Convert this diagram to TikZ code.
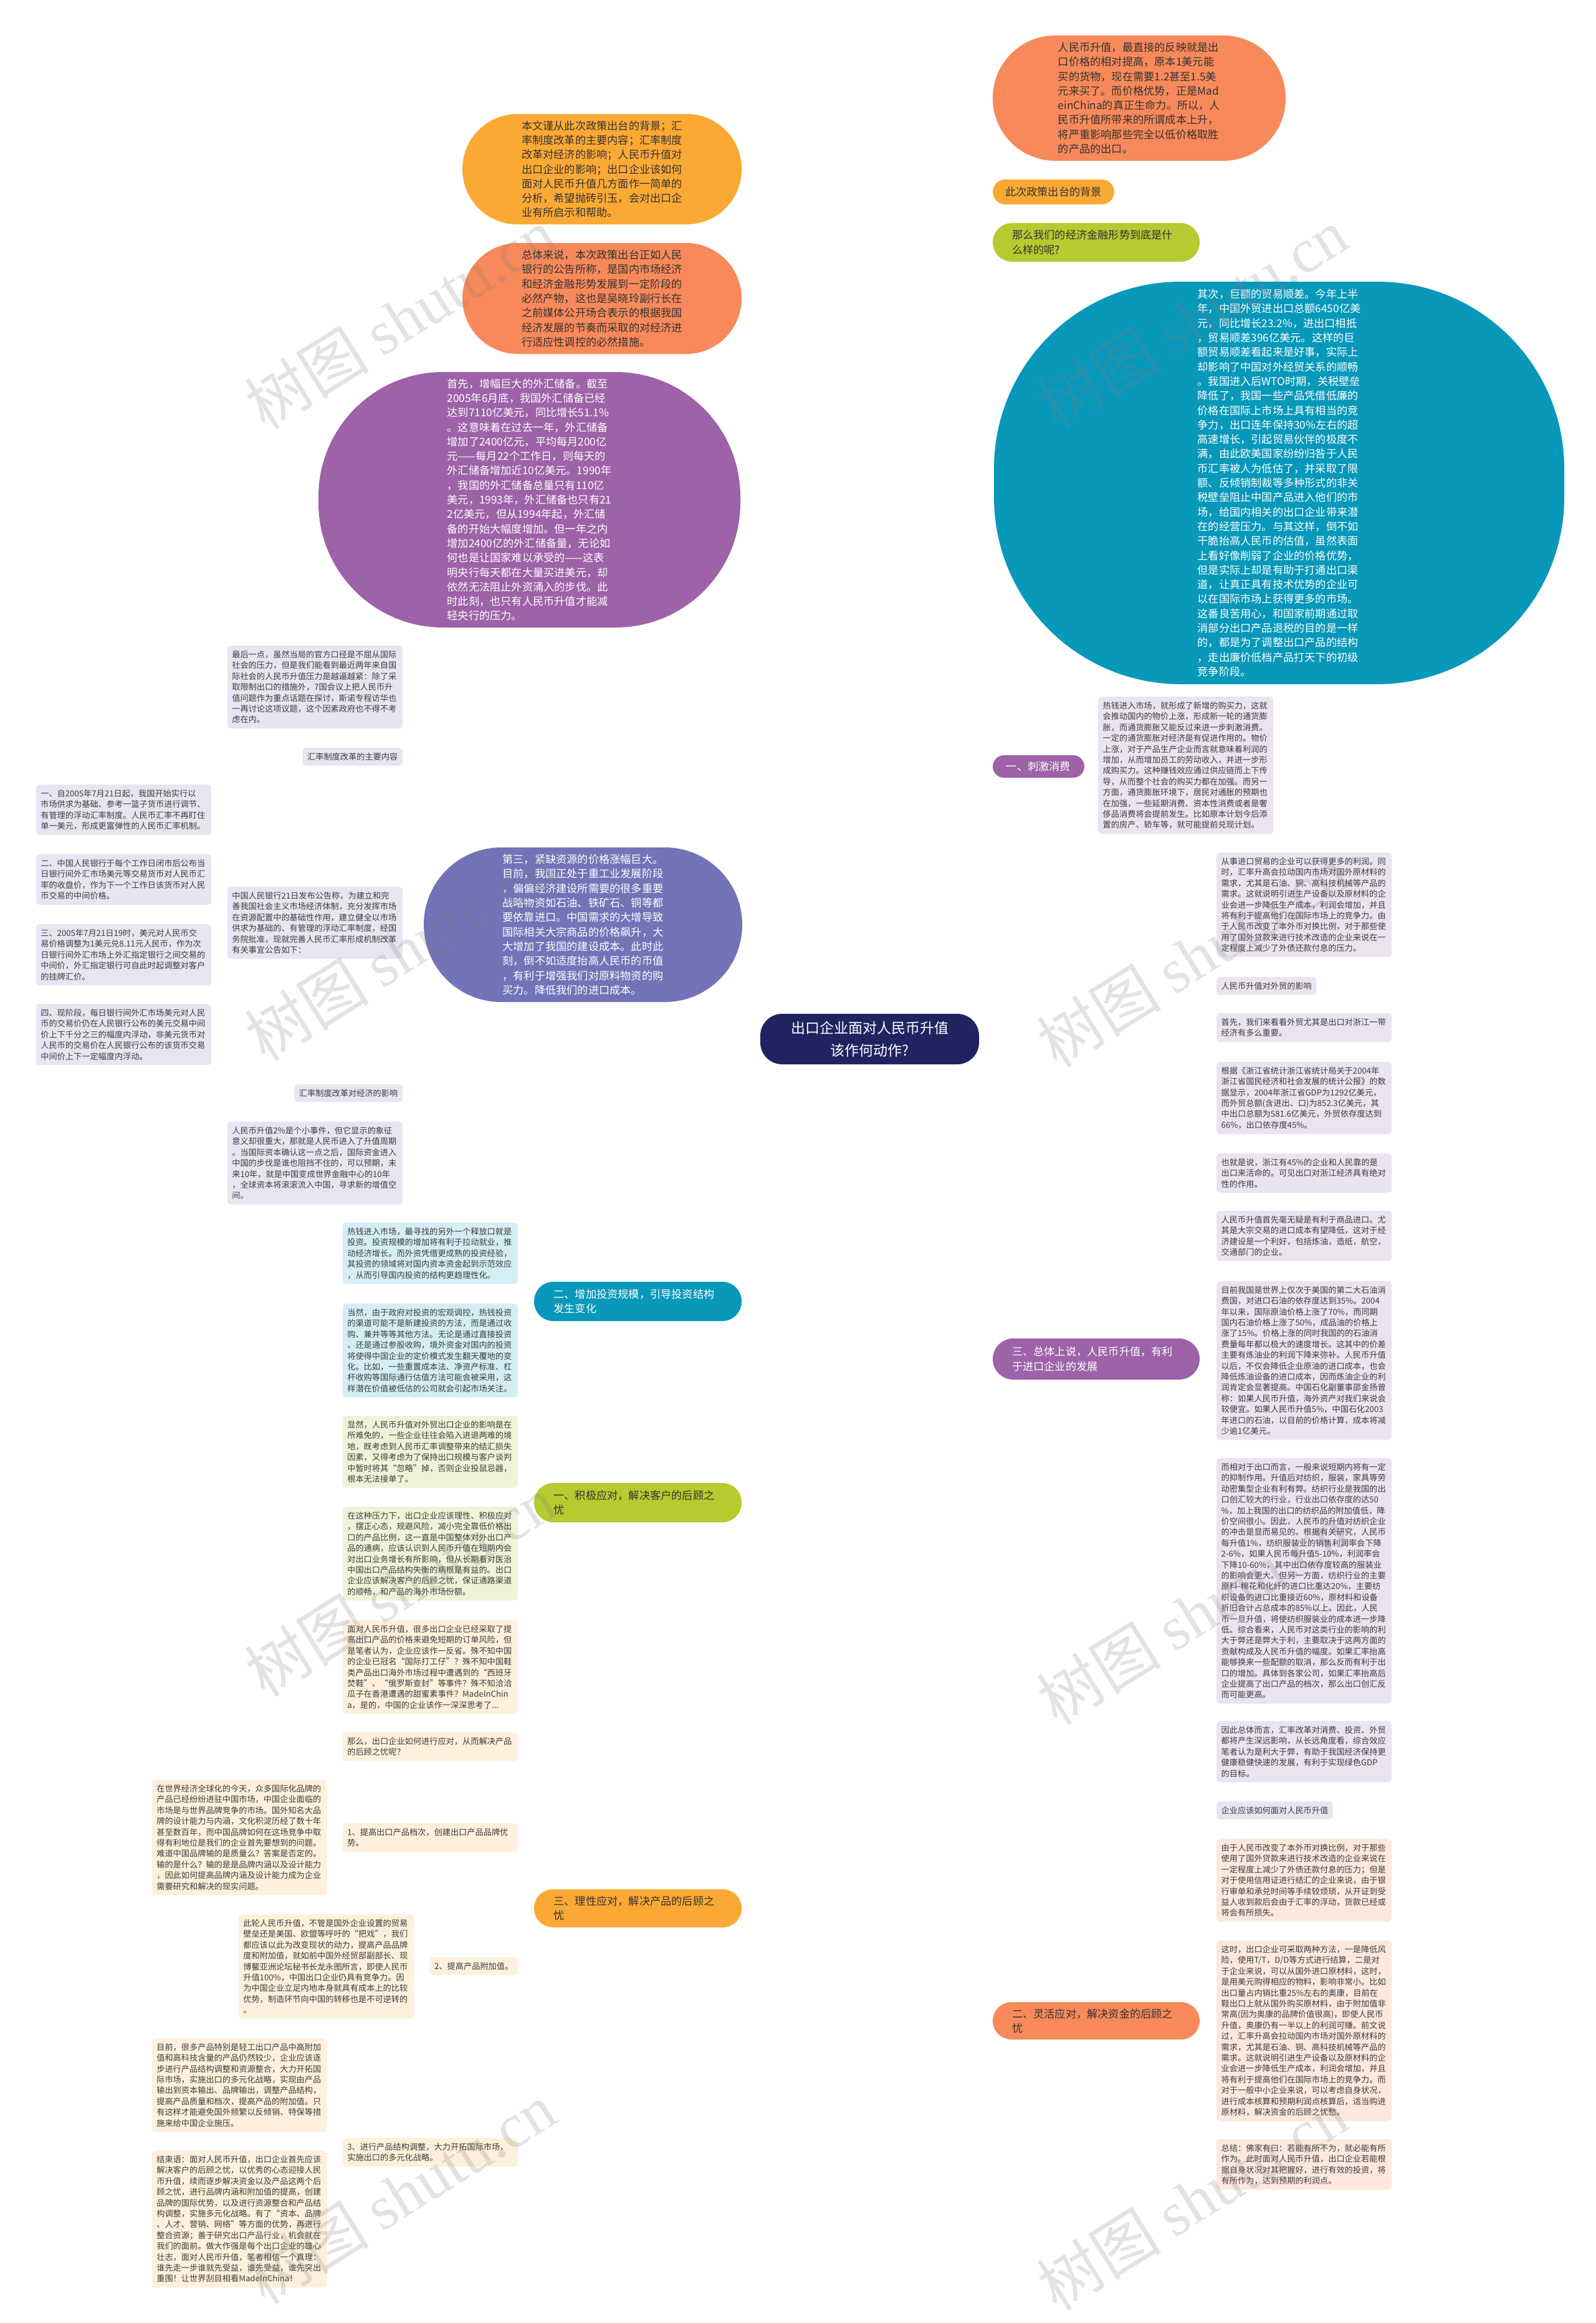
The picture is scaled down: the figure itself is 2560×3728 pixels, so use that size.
\documentclass[tikz,border=0pt]{standalone}
\usepackage{fontspec}
\setmainfont{Noto Sans CJK SC}
\newfontfamily\wmlatin{Liberation Serif}
\usetikzlibrary{calc,backgrounds}
\definecolor{cCoral}{HTML}{F8895A}
\definecolor{cAmber}{HTML}{FBA935}
\definecolor{cGreen}{HTML}{B7CA2F}
\definecolor{cTeal}{HTML}{0898BA}
\definecolor{cPurple}{HTML}{9D62A7}
\definecolor{cLav}{HTML}{7373B8}
\definecolor{cNavy}{HTML}{1F2461}
\definecolor{cSpine}{HTML}{5E5E9E}
\definecolor{nPurple}{HTML}{EAE4F0}
\definecolor{nLav}{HTML}{E6E6F2}
\definecolor{nTeal}{HTML}{D4EEF6}
\definecolor{nGreen}{HTML}{F0F3D8}
\definecolor{nAmber}{HTML}{FEF0DC}
\definecolor{nCoral}{HTML}{FDE8DE}
\definecolor{tDark}{HTML}{333333}
\definecolor{tNote}{HTML}{3C3C3C}
\tikzset{
 bub/.style={rounded corners=#1, inner sep=0pt, align=left, font=\fontsize{17.2pt}{23.3pt}\selectfont},
 pillbox/.style={rounded corners=#1, inner sep=0pt, align=left, text width=270pt, font=\fontsize{17.2pt}{23.3pt}\selectfont},
 notebox/.style={rounded corners=5pt, inner xsep=7.5pt, inner ysep=8pt, text width=266pt, align=left, font=\fontsize{13.2pt}{17.4pt}\selectfont, text=tNote},
 noteone/.style={rounded corners=5pt, inner xsep=7.5pt, inner ysep=8pt, align=left, font=\fontsize{13.2pt}{17.4pt}\selectfont, text=tNote},
 mline/.style={line width=2.4pt},
 sline/.style={line width=1.8pt},
 wm/.style={text=black!50, opacity=0.22, font=\fontsize{100pt}{100pt}\selectfont, rotate=32, inner sep=0pt},
}
\newcommand\mlink[3]{\draw[mline,#1] (#2) .. controls ($(#2)!0.67!(#2|-#3)$) and ($(#3)!0.67!(#2|-#3)$) .. (#3);}
\newcommand\lsub[3]{\draw[sline,#1] (#2) .. controls +(-22,0) and +(22,0) .. (#3);}
\newcommand\rsub[3]{\draw[sline,#1] (#2) .. controls +(22,0) and +(-22,0) .. (#3);}
\begin{document}
\begin{tikzpicture}[x=1pt,y=-1pt]
\useasboundingbox[fill=white] (0,0) rectangle (2560,3728);

% centre
\node[fill=cNavy, rounded corners=35pt, minimum width=351pt, minimum height=81pt, inner sep=0pt, align=center, text=white, font=\fontsize{23pt}{36pt}\selectfont] (C) at (1395.5,1667.5) {出口企业面对人民币升值\\该作何动作?};

% right side top
\node[bub=100pt, fill=cCoral, text=tDark, minimum width=470pt, minimum height=201pt] (R1) at (1828,157.5) {人民币升值，最直接的反映就是出\\口价格的相对提高，原本1美元能\\买的货物，现在需要1.2甚至1.5美\\元来买了。而价格优势，正是Mad\\einChina的真正生命力。所以，人\\民币升值所带来的所谓成本上升，\\将严重影响那些完全以低价格取胜\\的产品的出口。};
\node[rounded corners=20pt, fill=cAmber, text=tDark, minimum width=195pt, minimum height=40pt, inner sep=0pt, font=\fontsize{17.2pt}{23.3pt}\selectfont] (R2) at (1690.5,308) {此次政策出台的背景};
\node[pillbox=31pt, fill=cGreen, text=tDark, minimum width=332pt, minimum height=62pt] (R3) at (1759,389) {那么我们的经济金融形势到底是什\\么样的呢?};
\node[bub=300pt, fill=cTeal, text=white, minimum width=915pt, minimum height=646pt] (R4) at (2052.5,775) {其次，巨额的贸易顺差。今年上半\\年，中国外贸进出口总额6450亿美\\元，同比增长23.2\%，进出口相抵\\，贸易顺差396亿美元。这样的巨\\额贸易顺差看起来是好事，实际上\\却影响了中国对外经贸关系的顺畅\\。我国进入后WTO时期，关税壁垒\\降低了，我国一些产品凭借低廉的\\价格在国际上市场上具有相当的竞\\争力，出口连年保持30\%左右的超\\高速增长，引起贸易伙伴的极度不\\满，由此欧美国家纷纷归咎于人民\\币汇率被人为低估了，并采取了限\\额、反倾销制裁等多种形式的非关\\税壁垒阻止中国产品进入他们的市\\场，给国内相关的出口企业带来潜\\在的经营压力。与其这样，倒不如\\干脆抬高人民币的估值，虽然表面\\上看好像削弱了企业的价格优势，\\但是实际上却是有助于打通出口渠\\道，让真正具有技术优势的企业可\\以在国际市场上获得更多的市场。\\这番良苦用心，和国家前期通过取\\消部分出口产品退税的目的是一样\\的，都是为了调整出口产品的结构\\，走出廉价低档产品打天下的初级\\竞争阶段。};
\node[rounded corners=18pt, fill=cPurple, text=white, minimum width=147pt, minimum height=36pt, inner sep=0pt, font=\fontsize{17.2pt}{23.3pt}\selectfont] (R5) at (1666.5,1230) {一、刺激消费};
\node[notebox, fill=nPurple, anchor=north west] (R5n) at (1762,1118) {热钱进入市场，就形成了新增的购买力，这就\\会推动国内的物价上涨，形成新一轮的通货膨\\胀，而通货膨胀又能反过来进一步刺激消费。\\一定的通货膨胀对经济是有促进作用的。物价\\上涨，对于产品生产企业而言就意味着利润的\\增加，从而增加员工的劳动收入，并进一步形\\成购买力。这种赚钱效应通过供应链而上下传\\导，从而整个社会的购买力都在加强。而另一\\方面，通货膨胀环境下，居民对通胀的预期也\\在加强，一些延期消费、资本性消费或者是奢\\侈品消费将会提前发生。比如原本计划今后添\\置的房产、轿车等，就可能提前兑现计划。};

% right side: import branch
\node[pillbox=33pt, fill=cPurple, text=white, minimum width=332pt, minimum height=66pt] (R6) at (1759,2181) {三、总体上说，人民币升值，有利\\于进口企业的发展};
\node[notebox, fill=nPurple, anchor=north west] (N1) at (1952,1368) {从事进口贸易的企业可以获得更多的利润。同\\时，汇率升高会拉动国内市场对国外原材料的\\需求，尤其是石油、铜、高科技机械等产品的\\需求。这就说明引进生产设备以及原材料的企\\业会进一步降低生产成本，利润会增加，并且\\将有利于提高他们在国际市场上的竞争力。由\\于人民币改变了本外币对换比例，对于那些使\\用了国外贷款来进行技术改造的企业来说在一\\定程度上减少了外债还款付息的压力。};
\node[noteone, fill=nPurple, anchor=north west] (N2) at (1952,1568) {人民币升值对外贸的影响};
\node[notebox, fill=nPurple, anchor=north west] (N3) at (1952,1626) {首先，我们来看看外贸尤其是出口对浙江一带\\经济有多么重要。};
\node[notebox, fill=nPurple, anchor=north west] (N4) at (1952,1704) {根据《浙江省统计浙江省统计局关于2004年\\浙江省国民经济和社会发展的统计公报》的数\\据显示，2004年浙江省GDP为1292亿美元，\\而外贸总额(含进出、口)为852.3亿美元，其\\中出口总额为581.6亿美元，外贸依存度达到\\66\%，出口依存度45\%。};
\node[notebox, fill=nPurple, anchor=north west] (N5) at (1952,1851) {也就是说，浙江有45\%的企业和人民靠的是\\出口来活命的。可见出口对浙江经济具有绝对\\性的作用。};
\node[notebox, fill=nPurple, anchor=north west] (N6) at (1952,1943) {人民币升值首先毫无疑是有利于商品进口。尤\\其是大宗交易的进口成本有望降低，这对于经\\济建设是一个利好，包括炼油，造纸，航空，\\交通部门的企业。};
\node[notebox, fill=nPurple, anchor=north west] (N7) at (1952,2056) {目前我国是世界上仅次于美国的第二大石油消\\费国，对进口石油的依存度达到35\%。2004\\年以来，国际原油价格上涨了70\%，而同期\\国内石油价格上涨了50\%，成品油的价格上\\涨了15\%。价格上涨的同时我国的的石油消\\费量每年都以极大的速度增长。这其中的价差\\主要有炼油业的利润下降来弥补。人民币升值\\以后，不仅会降低企业原油的进口成本，也会\\降低炼油设备的进口成本，因而炼油企业的利\\润肯定会显著提高。中国石化副董事邵金扬曾\\称：如果人民币升值，海外资产对我们来说会\\较便宜。如果人民币升值5\%，中国石化2003\\年进口的石油，以目前的价格计算，成本将减\\少逾1亿美元。};
\node[notebox, fill=nPurple, anchor=north west] (N8) at (1952,2340) {而相对于出口而言，一般来说短期内将有一定\\的抑制作用。升值后对纺织，服装，家具等劳\\动密集型企业有利有弊。纺织行业是我国的出\\口创汇较大的行业，行业出口依存度的达50\\\%，加上我国的出口的纺织品的附加值低，降\\价空间很小。因此，人民币的升值对纺织企业\\的冲击是显而易见的。根据有关研究，人民币\\每升值1\%，纺织服装业的销售利润率会下降\\2-6\%，如果人民币每升值5-10\%，利润率会\\下降10-60\%，其中出口依存度较高的服装业\\的影响会更大。但另一方面，纺织行业的主要\\原料-棉花和化纤的进口比重达20\%，主要纺\\织设备的进口比重接近60\%，原材料和设备\\折旧合计占总成本的85\%以上。因此，人民\\币一旦升值，将使纺织服装业的成本进一步降\\低。综合看来，人民币对这类行业的影响的利\\大于弊还是弊大于利，主要取决于这两方面的\\贡献构成及人民币升值的幅度。如果汇率抬高\\能够换来一些配额的取消，那么反而有利于出\\口的增加。具体到各家公司，如果汇率抬高后\\企业提高了出口产品的档次，那么出口创汇反\\而可能更高。};
\node[notebox, fill=nPurple, anchor=north west] (N9) at (1952,2762) {因此总体而言，汇率改革对消费、投资、外贸\\都将产生深远影响，从长远角度看，综合效应\\笔者认为是利大于弊，有助于我国经济保持更\\健康稳健快速的发展，有利于实现绿色GDP\\的目标。};
\node[noteone, fill=nPurple, anchor=north west] (N10) at (1952,2891) {企业应该如何面对人民币升值};

% right side: funds branch
\node[pillbox=30pt, fill=cCoral, text=tDark, minimum width=332pt, minimum height=60pt] (OP) at (1759,3243) {二、灵活应对，解决资金的后顾之\\忧};
\node[notebox, fill=nCoral, anchor=north west] (O1) at (1952,2951) {由于人民币改变了本外币对换比例，对于那些\\使用了国外贷款来进行技术改造的企业来说在\\一定程度上减少了外债还款付息的压力；但是\\对于使用信用证进行结汇的企业来说，由于银\\行审单和承兑时间等手续较烦琐，从开证到受\\益人收到款后会由于汇率的浮动，货款已经或\\将会有所损失。};
\node[notebox, fill=nCoral, anchor=north west] (O2) at (1952,3114) {这时，出口企业可采取两种方法，一是降低风\\险，使用T/T，D/D等方式进行结算，二是对\\于企业来说，可以从国外进口原材料，这时，\\是用美元购得相应的物料，影响非常小。比如\\出口量占内销比重25\%左右的奥康，目前在\\鞋出口上就从国外购买原材料，由于附加值非\\常高(因为奥康的品牌价值很高)，即使人民币\\升值，奥康仍有一半以上的利润可赚。前文说\\过，汇率升高会拉动国内市场对国外原材料的\\需求，尤其是石油、铜、高科技机械等产品的\\需求。这就说明引进生产设备以及原材料的企\\业会进一步降低生产成本，利润会增加，并且\\将有利于提高他们在国际市场上的竞争力。而\\对于一般中小企业来说，可以考虑自身状况，\\进行成本核算和预期利润点核算后，适当购进\\原材料，解决资金的后顾之忧愁。};
\node[notebox, fill=nCoral, anchor=north west] (O3) at (1952,3433) {总结：佛家有曰：若能有所不为，就必能有所\\作为。此时面对人民币升值，出口企业若能根\\据自身状况对其把握好，进行有效的投资，将\\有所作为，达到预期的利润点。};

% left side top
\node[bub=88pt, fill=cAmber, text=tDark, minimum width=448pt, minimum height=177pt] (L1) at (966,271.5) {本文谨从此次政策出台的背景；汇\\率制度改革的主要内容；汇率制度\\改革对经济的影响；人民币升值对\\出口企业的影响；出口企业该如何\\面对人民币升值几方面作一简单的\\分析，希望抛砖引玉，会对出口企\\业有所启示和帮助。};
\node[bub=89pt, fill=cCoral, text=tDark, minimum width=448pt, minimum height=178pt] (L2) at (966,479) {总体来说，本次政策出台正如人民\\银行的公告所称，是国内市场经济\\和经济金融形势发展到一定阶段的\\必然产物，这也是吴晓玲副行长在\\之前媒体公开场合表示的根据我国\\经济发展的节奏而采取的对经济进\\行适应性调控的必然措施。};
\node[bub=200pt, fill=cPurple, text=white, minimum width=677pt, minimum height=410pt] (L3) at (849.5,802) {首先，增幅巨大的外汇储备。截至\\2005年6月底，我国外汇储备已经\\达到7110亿美元，同比增长51.1\%\\。这意味着在过去一年，外汇储备\\增加了2400亿元，平均每月200亿\\元——每月22个工作日，则每天的\\外汇储备增加近10亿美元。1990年\\，我国的外汇储备总量只有110亿\\美元，1993年，外汇储备也只有21\\2亿美元，但从1994年起，外汇储\\备的开始大幅度增加。但一年之内\\增加2400亿的外汇储备量，无论如\\何也是让国家难以承受的——这表\\明央行每天都在大量买进美元，却\\依然无法阻止外资涌入的步伐。此\\时此刻，也只有人民币升值才能减\\轻央行的压力。};
\node[bub=124pt, fill=cLav, text=white, minimum width=511pt, minimum height=248pt] (L4) at (935.5,1484) {第三，紧缺资源的价格涨幅巨大。\\目前，我国正处于重工业发展阶段\\，偏偏经济建设所需要的很多重要\\战略物资如石油、铁矿石、铜等都\\要依靠进口。中国需求的大增导致\\国际相关大宗商品的价格飙升，大\\大增加了我国的建设成本。此时此\\刻，倒不如适度抬高人民币的币值\\，有利于增强我们对原料物资的购\\买力。降低我们的进口成本。};

\node[notebox, fill=nLav, anchor=north east] (A1) at (646,1036) {最后一点，虽然当局的官方口径是不屈从国际\\社会的压力，但是我们能看到最近两年来自国\\际社会的人民币升值压力是越逼越紧：除了采\\取限制出口的措施外，7国会议上把人民币升\\值问题作为重点话题在探讨，斯诺专程访华也\\一再讨论这项议题，这个因素政府也不得不考\\虑在内。};
\node[noteone, fill=nLav, anchor=north east] (A2) at (646,1200) {汇率制度改革的主要内容};
\node[notebox, fill=nLav, anchor=north east] (A3) at (646,1423) {中国人民银行21日发布公告称，为建立和完\\善我国社会主义市场经济体制，充分发挥市场\\在资源配置中的基础性作用，建立健全以市场\\供求为基础的、有管理的浮动汇率制度，经国\\务院批准，现就完善人民币汇率形成机制改革\\有关事宜公告如下：};
\node[noteone, fill=nLav, anchor=north east] (A4) at (646,1740) {汇率制度改革对经济的影响};
\node[notebox, fill=nLav, anchor=north east] (A5) at (646,1800) {人民币升值2\%是个小事件，但它显示的象征\\意义却很重大，那就是人民币进入了升值周期\\。当国际资本确认这一点之后，国际资金进入\\中国的步伐是谁也阻挡不住的，可以预期，未\\来10年，就是中国变成世界金融中心的10年\\，全球资本将滚滚流入中国，寻求新的增值空\\间。};
\node[notebox, fill=nLav, anchor=north east] (B1) at (339,1259) {一、自2005年7月21日起，我国开始实行以\\市场供求为基础、参考一篮子货币进行调节、\\有管理的浮动汇率制度。人民币汇率不再盯住\\单一美元，形成更富弹性的人民币汇率机制。};
\node[notebox, fill=nLav, anchor=north east] (B2) at (339,1371) {二、中国人民银行于每个工作日闭市后公布当\\日银行间外汇市场美元等交易货币对人民币汇\\率的收盘价，作为下一个工作日该货币对人民\\币交易的中间价格。};
\node[notebox, fill=nLav, anchor=north east] (B3) at (339,1483) {三、2005年7月21日19时，美元对人民币交\\易价格调整为1美元兑8.11元人民币，作为次\\日银行间外汇市场上外汇指定银行之间交易的\\中间价，外汇指定银行可自此时起调整对客户\\的挂牌汇价。};
\node[notebox, fill=nLav, anchor=north east] (B4) at (339,1611) {四、现阶段，每日银行间外汇市场美元对人民\\币的交易价仍在人民银行公布的美元交易中间\\价上下千分之三的幅度内浮动，非美元货币对\\人民币的交易价在人民银行公布的该货币交易\\中间价上下一定幅度内浮动。};

% left side bottom: investment
\node[pillbox=31pt, fill=cTeal, text=white, minimum width=333pt, minimum height=63pt] (TP) at (1023.5,2088.5) {二、增加投资规模，引导投资结构\\发生变化};
\node[notebox, fill=nTeal, anchor=north east] (T1) at (831,1962) {热钱进入市场，最寻找的另外一个释放口就是\\投资。投资规模的增加将有利于拉动就业，推\\动经济增长。而外资凭借更成熟的投资经验，\\其投资的领域将对国内资本资金起到示范效应\\，从而引导国内投资的结构更趋理性化。};
\node[notebox, fill=nTeal, anchor=north east] (T2) at (831,2092) {当然，由于政府对投资的宏观调控，热钱投资\\的渠道可能不是新建投资的方法，而是通过收\\购、兼并等等其他方法。无论是通过直接投资\\、还是通过参股收购，境外资金对国内的投资\\将使得中国企业的定价模式发生翻天覆地的变\\化。比如，一些重置成本法、净资产标准、杠\\杆收购等国际通行估值方法可能会被采用，这\\样潜在价值被低估的公司就会引起市场关注。};

% customers
\node[pillbox=31pt, fill=cGreen, text=tDark, minimum width=333pt, minimum height=63pt] (GP) at (1023.5,2411.5) {一、积极应对，解决客户的后顾之\\忧};
\node[notebox, fill=nGreen, anchor=north east] (G1) at (831,2272) {显然，人民币升值对外贸出口企业的影响是在\\所难免的，一些企业往往会陷入进退两难的境\\地，既考虑到人民币汇率调整带来的结汇损失\\因素，又得考虑为了保持出口规模与客户谈判\\中暂时将其“忽略”掉，否则企业投鼠忌器，\\根本无法接单了。};
\node[notebox, fill=nGreen, anchor=north east] (G2) at (831,2418) {在这种压力下，出口企业应该理性、积极应对\\，摆正心态，规避风险，减小完全靠低价格出\\口的产品比例，这一直是中国整体对外出口产\\品的通病，应该认识到人民币升值在短期内会\\对出口业务增长有所影响，但从长期看对医治\\中国出口产品结构失衡的病根是有益的。出口\\企业应该解决客户的后顾之忧，保证通路渠道\\的顺畅，和产品的海外市场份额。};

% products
\node[pillbox=30pt, fill=cAmber, text=tDark, minimum width=333pt, minimum height=61pt] (AP) at (1023.5,3062.5) {三、理性应对，解决产品的后顾之\\忧};
\node[notebox, fill=nAmber, anchor=north east] (P1) at (831,2600) {面对人民币升值，很多出口企业已经采取了提\\高出口产品的价格来避免短期的订单风险，但\\是笔者认为，企业应该作一反省。殊不知中国\\的企业已冠名“国际打工仔”？殊不知中国鞋\\类产品出口海外市场过程中遭遇到的“西班牙\\焚鞋”、“俄罗斯查封”等事件？殊不知洽洽\\瓜子在香港遭遇的甜蜜素事件？MadeInChin\\a，是的，中国的企业该作一深深思考了...};
\node[notebox, fill=nAmber, anchor=north east] (P2) at (831,2780) {那么，出口企业如何进行应对，从而解决产品\\的后顾之忧呢？};
\node[notebox, fill=nAmber, anchor=north east] (P3) at (831,2926) {1、提高出口产品档次，创建出口产品品牌优\\势。};
\node[noteone, fill=nAmber, anchor=north east] (P4) at (831,3141) {2、提高产品附加值。};
\node[notebox, fill=nAmber, anchor=north east] (P5) at (831,3431) {3、进行产品结构调整，大力开拓国际市场，\\实施出口的多元化战略。};
\node[notebox, fill=nAmber, anchor=north east] (Q1) at (525,2856) {在世界经济全球化的今天，众多国际化品牌的\\产品已经纷纷进驻中国市场，中国企业面临的\\市场是与世界品牌竞争的市场。国外知名大品\\牌的设计能力与内涵，文化积淀历经了数十年\\甚至数百年，而中国品牌如何在这场竞争中取\\得有利地位是我们的企业首先要想到的问题。\\难道中国品牌输的是质量么？答案是否定的。\\输的是什么？输的是是品牌内涵以及设计能力\\，因此如何提高品牌内涵及设计能力成为企业\\需要研究和解决的现实问题。};
\node[notebox, fill=nAmber, anchor=north east] (Q2) at (664,3072) {此轮人民币升值，不管是国外企业设置的贸易\\壁垒还是美国、欧盟等呼吁的“把戏”，我们\\都应该以此为改变现状的动力，提高产品品牌\\度和附加值，就如前中国外经贸部副部长、现\\博鳌亚洲论坛秘书长龙永图所言，即使人民币\\升值100\%，中国出口企业仍具有竞争力。因\\为中国企业立足内地本身就具有成本上的比较\\优势，制造环节向中国的转移也是不可逆转的\\。};
\node[notebox, fill=nAmber, anchor=north east] (Q3) at (525,3271) {目前，很多产品特别是轻工出口产品中高附加\\值和高科技含量的产品仍然较少，企业应该逐\\步进行产品结构调整和资源整合，大力开拓国\\际市场，实施出口的多元化战略，实现由产品\\输出到资本输出、品牌输出，调整产品结构，\\提高产品质量和档次，提高产品的附加值。只\\有这样才能避免国外频繁以反倾销、特保等措\\施来给中国企业施压。};
\node[notebox, fill=nAmber, anchor=north east] (Q4) at (525,3451) {结束语：面对人民币升值，出口企业首先应该\\解决客户的后顾之忧，以优秀的心态迎接人民\\币升值，续而逐步解决资金以及产品这两个后\\顾之忧，进行品牌内涵和附加值的提高，创建\\品牌的国际优势，以及进行资源整合和产品结\\构调整，实施多元化战略。有了“资本、品牌\\、人才、营销、网络”等方面的优势，再进行\\整合资源；善于研究出口产品行业，机会就在\\我们的面前。做大作强是每个出口企业的雄心\\壮志，面对人民币升值，笔者相信一个真理：\\谁先走一步谁就先受益，谁先受益，谁先突出\\重围！让世界刮目相看MadeInChina！};

\begin{scope}[on background layer]
\mlink{cCoral}{C.north}{R1.west}
\mlink{cAmber}{C.north}{R2.west}
\mlink{cGreen}{C.north}{R3.west}
\mlink{cTeal}{C.north}{R4.west}
\mlink{cPurple}{C.north}{R5.west}
\mlink{cAmber}{C.north}{L1.east}
\mlink{cCoral}{C.north}{L2.east}
\mlink{cPurple}{C.north}{L3.east}
\mlink{cLav}{C.north}{L4.east}
\mlink{cPurple}{C.south}{R6.west}
\mlink{cCoral}{C.south}{OP.west}
\mlink{cTeal}{C.south}{TP.east}
\mlink{cGreen}{C.south}{GP.east}
\mlink{cAmber}{C.south}{AP.east}
\draw[sline,cPurple] (R5.east) -- (R5.east -| R5n.west);
\rsub{cPurple}{R6.east}{N1.west}
\rsub{cPurple}{R6.east}{N2.west}
\rsub{cPurple}{R6.east}{N3.west}
\rsub{cPurple}{R6.east}{N4.west}
\rsub{cPurple}{R6.east}{N5.west}
\rsub{cPurple}{R6.east}{N6.west}
\rsub{cPurple}{R6.east}{N7.west}
\rsub{cPurple}{R6.east}{N8.west}
\rsub{cPurple}{R6.east}{N9.west}
\rsub{cPurple}{R6.east}{N10.west}
\rsub{cCoral}{OP.east}{O1.west}
\rsub{cCoral}{OP.east}{O2.west}
\rsub{cCoral}{OP.east}{O3.west}
\lsub{cSpine}{L4.west}{A1.east}
\lsub{cSpine}{L4.west}{A2.east}
\lsub{cSpine}{L4.west}{A3.east}
\lsub{cSpine}{L4.west}{A4.east}
\lsub{cSpine}{L4.west}{A5.east}
\lsub{cSpine}{A3.west}{B1.east}
\lsub{cSpine}{A3.west}{B2.east}
\lsub{cSpine}{A3.west}{B3.east}
\lsub{cSpine}{A3.west}{B4.east}
\lsub{cTeal}{TP.west}{T1.east}
\lsub{cTeal}{TP.west}{T2.east}
\lsub{cGreen}{GP.west}{G1.east}
\lsub{cGreen}{GP.west}{G2.east}
\lsub{cAmber}{AP.west}{P1.east}
\lsub{cAmber}{AP.west}{P2.east}
\lsub{cAmber}{AP.west}{P3.east}
\lsub{cAmber}{AP.west}{P4.east}
\lsub{cAmber}{AP.west}{P5.east}
\draw[sline,cAmber] (P3.west) -- (P3.west -| Q1.east);
\draw[sline,cAmber] (P4.west) -- (P4.west -| Q2.east);
\lsub{cAmber}{P5.west}{Q3.east}
\lsub{cAmber}{P5.west}{Q4.east}
\end{scope}

% watermarks
\node[wm] (W1) at (642,511) {树图 {\wmlatin shutu.cn}};
\node[wm] (W2) at (1913,511) {树图 {\wmlatin shutu.cn}};
\node[wm] (W3) at (642,1525) {树图 {\wmlatin shutu.cn}};
\node[wm] (W4) at (1913,1535) {树图 {\wmlatin shutu.cn}};
\node[wm] (W5) at (642,2545) {树图 {\wmlatin shutu.cn}};
\node[wm] (W6) at (1913,2590) {树图 {\wmlatin shutu.cn}};
\node[wm] (W7) at (642,3520) {树图 {\wmlatin shutu.cn}};
\node[wm] (W8) at (1913,3530) {树图 {\wmlatin shutu.cn}};
\end{tikzpicture}
\end{document}
